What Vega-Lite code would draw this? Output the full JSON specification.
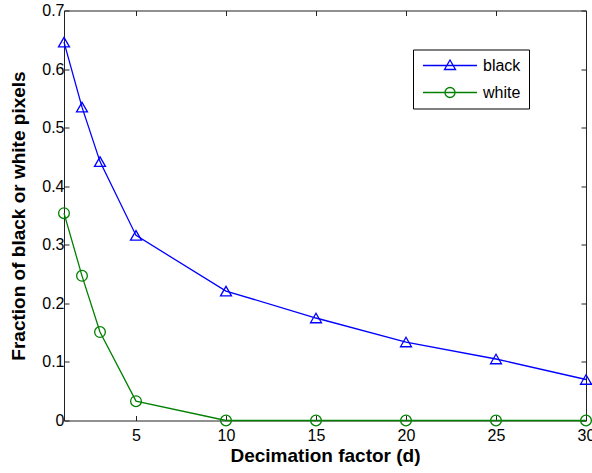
{
  "$schema": "https://vega.github.io/schema/vega-lite/v6.json",
  "width": 522,
  "height": 410,
  "autosize": {"type": "none"},
  "padding": {"left": 64, "top": 10.5, "right": 6, "bottom": 52.5},
  "background": "white",
  "config": {
    "view": {"stroke": null},
    "font": "Liberation Sans",
    "axis": {
      "grid": false,
      "domainColor": "#222222",
      "tickColor": "#222222",
      "domainWidth": 1,
      "tickWidth": 1,
      "labelColor": "#000000",
      "titleColor": "#000000",
      "labelFont": "Liberation Sans",
      "titleFont": "Liberation Sans",
      "labelFontSize": 16,
      "titleFontSize": 19,
      "titleFontWeight": "bold"
    }
  },
  "data": {
    "values": [
      {"d": 1, "frac": 0.646, "series": "black"},
      {"d": 2, "frac": 0.535, "series": "black"},
      {"d": 3, "frac": 0.442, "series": "black"},
      {"d": 5, "frac": 0.316, "series": "black"},
      {"d": 10, "frac": 0.221, "series": "black"},
      {"d": 15, "frac": 0.175, "series": "black"},
      {"d": 20, "frac": 0.134, "series": "black"},
      {"d": 25, "frac": 0.105, "series": "black"},
      {"d": 30, "frac": 0.070, "series": "black"},
      {"d": 1, "frac": 0.354, "series": "white"},
      {"d": 2, "frac": 0.247, "series": "white"},
      {"d": 3, "frac": 0.151, "series": "white"},
      {"d": 5, "frac": 0.033, "series": "white"},
      {"d": 10, "frac": 0.0, "series": "white"},
      {"d": 15, "frac": 0.0, "series": "white"},
      {"d": 20, "frac": 0.0, "series": "white"},
      {"d": 25, "frac": 0.0, "series": "white"},
      {"d": 30, "frac": 0.0, "series": "white"}
    ]
  },
  "layer": [
    {
      "mark": {"type": "line", "strokeWidth": 1.3},
      "encoding": {
        "x": {
          "field": "d", "type": "quantitative",
          "scale": {"domain": [1, 30], "nice": false, "zero": false},
          "axis": {
            "orient": "bottom",
            "title": "Decimation factor (d)",
            "values": [5, 10, 15, 20, 25, 30],
            "tickSize": -5,
            "labelPadding": 12,
            "titlePadding": 3,
            "labelFlush": false,
            "labelOverlap": false
          }
        },
        "y": {
          "field": "frac", "type": "quantitative",
          "scale": {"domain": [0, 0.7], "nice": false},
          "axis": {
            "orient": "left",
            "title": "Fraction of black or white pixels",
            "values": [0, 0.1, 0.2, 0.3, 0.4, 0.5, 0.6, 0.7],
            "format": "~g",
            "tickSize": -5,
            "labelPadding": 5,
            "titlePadding": 13,
            "labelFlush": false,
            "labelOverlap": false
          }
        },
        "color": {
          "field": "series", "type": "nominal",
          "scale": {"domain": ["black", "white"], "range": ["#0000ff", "#008000"]},
          "legend": {
            "title": null,
            "orient": "none",
            "legendX": 349,
            "legendY": 39,
            "fillColor": "white",
            "strokeColor": "black",
            "padding": 8,
            "symbolSize": 100,
            "symbolOffset": 21,
            "labelOffset": 25,
            "rowPadding": 11,
            "labelFontSize": 16,
            "labelFont": "Liberation Sans",
            "labelColor": "black",
            "encode": {
              "symbols": {
                "update": {
                  "shape": {"signal": "datum.value === 'black' ? 'M-5.4,0H5.4M0,-1.1L1.1,0.8H-1.1Z' : 'M-5.4,0H5.4M1,0A1,1,0,1,1,-1,0A1,1,0,1,1,1,0'"},
                  "stroke": {"signal": "datum.value === 'black' ? '#0000ff' : '#008000'"},
                  "fill": {"value": "transparent"},
                  "strokeWidth": {"value": 1.3}
                }
              }
            }
          }
        }
      }
    },
    {
      "transform": [{"filter": "datum.series === 'black'"}],
      "mark": {"type": "point", "filled": false, "shape": "triangle-up", "color": "#0000ff", "size": 120, "strokeWidth": 1.3, "opacity": 1},
      "encoding": {
        "x": {
          "field": "d", "type": "quantitative",
          "axis": {
            "orient": "top", "title": null, "labels": false,
            "values": [5, 10, 15, 20, 25, 30], "tickSize": -5
          }
        },
        "y": {
          "field": "frac", "type": "quantitative",
          "axis": {
            "orient": "right", "title": null, "labels": false,
            "values": [0, 0.1, 0.2, 0.3, 0.4, 0.5, 0.6, 0.7], "tickSize": -5
          }
        }
      }
    },
    {
      "transform": [{"filter": "datum.series === 'white'"}],
      "mark": {"type": "point", "filled": false, "shape": "circle", "color": "#008000", "size": 115, "strokeWidth": 1.3, "opacity": 1},
      "encoding": {
        "x": {"field": "d", "type": "quantitative", "axis": null},
        "y": {"field": "frac", "type": "quantitative", "axis": null}
      }
    }
  ],
  "resolve": {"axis": {"x": "independent", "y": "independent"}}
}
